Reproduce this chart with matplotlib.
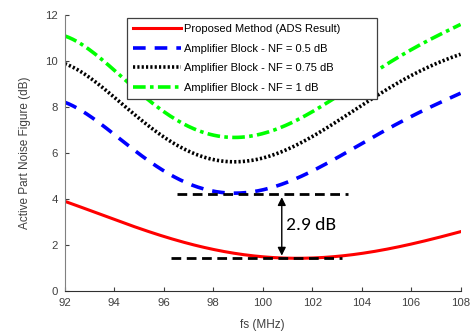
import numpy as np
import matplotlib
matplotlib.use('Agg')
from matplotlib import pyplot as plt

plt.rcParams['font.family'] = ['Liberation Sans', 'DejaVu Sans']

fs = [92, 94, 96, 98, 99, 100, 102, 104, 106, 108]

proposed = [3.9, 3.1, 2.4, 1.78, 1.62, 1.5, 1.45, 1.62, 2.05, 2.58]
nf_05 = [8.2, 6.8, 5.2, 4.4, 4.25, 4.35, 5.2, 6.45, 7.55, 8.6]
nf_075 = [9.9, 8.3, 6.85, 5.75, 5.5, 5.7, 6.8, 8.1, 9.3, 10.3]
nf_1 = [11.1, 9.5, 7.9, 6.85, 6.55, 6.8, 7.8, 9.25, 10.4, 11.6]

labels = ['Proposed Method (ADS Result)',
          'Amplifier Block - NF = 0.5 dB',
          'Amplifier Block - NF = 0.75 dB',
          'Amplifier Block - NF = 1 dB']

# smooth the read-off points a bit for drawing
xs = np.linspace(92, 108, 200)


def smooth(y):
    c = np.polyfit(fs, y, 5)
    return np.polyval(c, xs)


fig = plt.figure(figsize=(4.7, 3.35), dpi=100)
ax = fig.add_axes([0.138, 0.131, 0.842, 0.825])

ax.plot(xs, smooth(proposed), color='#ff0000', lw=2.2, label=labels[0])
ax.plot(xs, smooth(nf_05), color='#0000ff', lw=2.6, ls=(0, (3.5, 2.5)), label=labels[1])
ax.plot(xs, smooth(nf_075), color='black', lw=2.6, ls=(0, (0.6, 0.6)), label=labels[2])
ax.plot(xs, smooth(nf_1), color='#00ff00', lw=2.6, ls=(0, (3.5, 1.2, 1, 1.2)), label=labels[3])

# reference lines for the 2.9 dB gap
ax.plot([96.55, 103.45], [4.2, 4.2], color='black', lw=2, ls=(0, (3.5, 2)))
ax.plot([96.3, 103.2], [1.42, 1.42], color='black', lw=2, ls=(0, (3.5, 2)))
ax.annotate('', xy=(100.77, 1.42), xytext=(100.77, 4.2),
            arrowprops=dict(arrowstyle='<|-|>', color='black', lw=1, mutation_scale=12))
ax.text(100.95, 2.85, '2.9 dB', fontsize=14, family=['Carlito', 'Lato', 'DejaVu Sans'],
        va='center', ha='left')

ax.set_xlim(92, 108)
ax.set_ylim(0, 12)
ax.set_xticks(range(92, 109, 2))
ax.set_yticks(range(0, 13, 2))
ax.tick_params(direction='in', length=3, labelsize=8.2, colors='#404040', pad=5)
for s in ['top', 'right']:
    ax.spines[s].set_visible(False)
ax.spines['left'].set_color('#808080')
ax.spines['bottom'].set_color('#303030')

ax.set_xlabel('fs (MHz)', fontsize=8.5, color='#404040', labelpad=8)
ax.set_ylabel('Active Part Noise Figure (dB)', fontsize=8.5, color='#404040', labelpad=10)

leg = ax.legend(loc='upper left', bbox_to_anchor=(0.143, 1.008, 0.66, 0.0), mode='expand',
                fontsize=8, frameon=True, fancybox=False, edgecolor='#404040', framealpha=1,
                handlelength=4.3, borderpad=0.55, labelspacing=0.85, handletextpad=0.3)
leg.get_frame().set_linewidth(0.9)

fig.savefig('out.png', dpi=100)
